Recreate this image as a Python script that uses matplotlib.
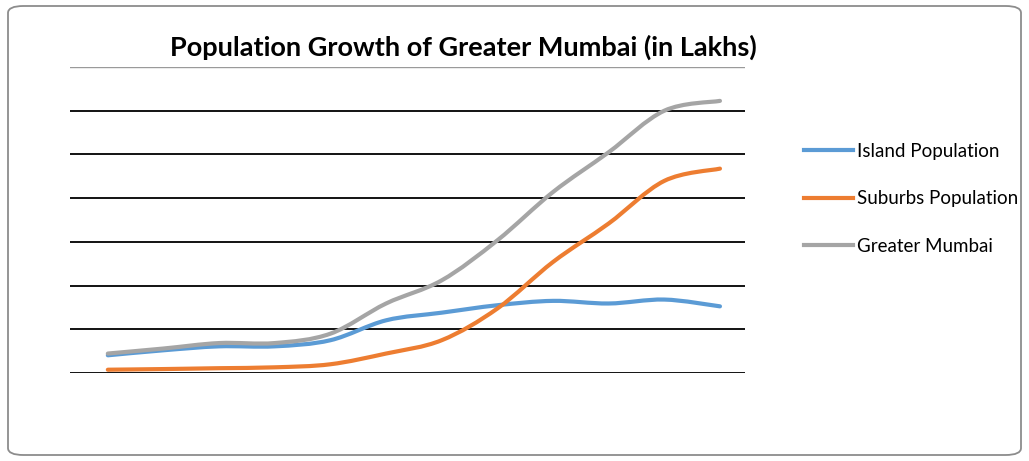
import matplotlib.pyplot as plt
from matplotlib.path import Path
from matplotlib.patches import PathPatch, FancyBboxPatch
from matplotlib.lines import Line2D
import numpy as np

# census years (not shown as labels on the chart)
years = [1901, 1911, 1921, 1931, 1941, 1951, 1961, 1971, 1981, 1991, 2001, 2011]
island = [8.1, 10.4, 12.2, 12.2, 15.0, 24.1, 27.6, 31.0, 33.0, 31.8, 33.6, 30.5]
suburbs = [1.5, 1.8, 2.2, 2.6, 4.0, 8.9, 15.0, 29.5, 50.8, 68.4, 87.9, 93.5]
greater = [8.9, 11.2, 13.7, 13.7, 18.0, 31.8, 42.4, 60.7, 82.8, 101.0, 120.0, 124.5]

series_names = ['Island Population', 'Suburbs Population', 'Greater Mumbai']
colores = ['#5B9BD5', '#ED7D31', '#A5A5A5']
gridvals = [0, 20, 40, 60, 80, 100, 120, 140]


def curva_suave(xs, ys):
    # bezier segments like a spreadsheet "smoothed line"
    pts = np.column_stack([xs, ys]).astype(float)
    n = len(pts)
    verts = [pts[0]]
    codes = [Path.MOVETO]
    for i in range(n - 1):
        p0 = pts[max(i - 1, 0)]
        p1 = pts[i]
        p2 = pts[i + 1]
        p3 = pts[min(i + 2, n - 1)]
        c1 = p1 + (p2 - p0) / 6
        c2 = p2 - (p3 - p1) / 6
        verts += [c1, c2, p2]
        codes += [Path.CURVE4] * 3
    return Path(verts, codes)


fig = plt.figure(figsize=(10.29, 4.61), dpi=100)

borde = FancyBboxPatch((8 / 1029, 6 / 461), 1013 / 1029, 449 / 461,
                       boxstyle='round,pad=0,rounding_size=0.015',
                       transform=fig.transFigure, facecolor='none',
                       edgecolor='#8c8c8c', linewidth=1.3, zorder=0)
fig.patches.append(borde)

ax = fig.add_axes([70 / 1029, (461 - 373) / 461, 675 / 1029, 306 / 461])
ax.set_facecolor('none')
x = np.arange(len(years))
ax.set_xlim(-0.68, len(years) - 1 + 0.45)
ax.set_ylim(0, 140)

for g in gridvals:
    if g == 140:
        ax.axhline(g, color='#9a9a9a', lw=1.0, zorder=1)
    else:
        ax.axhline(g, color='black', lw=1.3, zorder=1)

for ys, c in zip([island, suburbs, greater], colores):
    patch = PathPatch(curva_suave(x, ys), facecolor='none', edgecolor=c,
                      lw=3.0, capstyle='round', joinstyle='round', zorder=3)
    ax.add_patch(patch)

for s in ax.spines.values():
    s.set_visible(False)
ax.set_xticks([])
ax.set_yticks([])

fig.text(0.45, 1 - 47 / 461, 'Population Growth of Greater Mumbai (in Lakhs)',
         ha='center', va='center', fontsize=19.5, fontweight='bold',
         family='Lato', color='black')

handles = [Line2D([], [], color=c, lw=3.0) for c in colores]
leg = fig.legend(handles, series_names, loc='upper left',
                 bbox_to_anchor=(789 / 1029, 1 - 128 / 461),
                 frameon=False, handlelength=2.6, borderpad=0.3,
                 handletextpad=0.25, labelspacing=1.62,
                 prop={'family': 'Lato', 'size': 13.5})

plt.savefig('out.png', dpi=100)
